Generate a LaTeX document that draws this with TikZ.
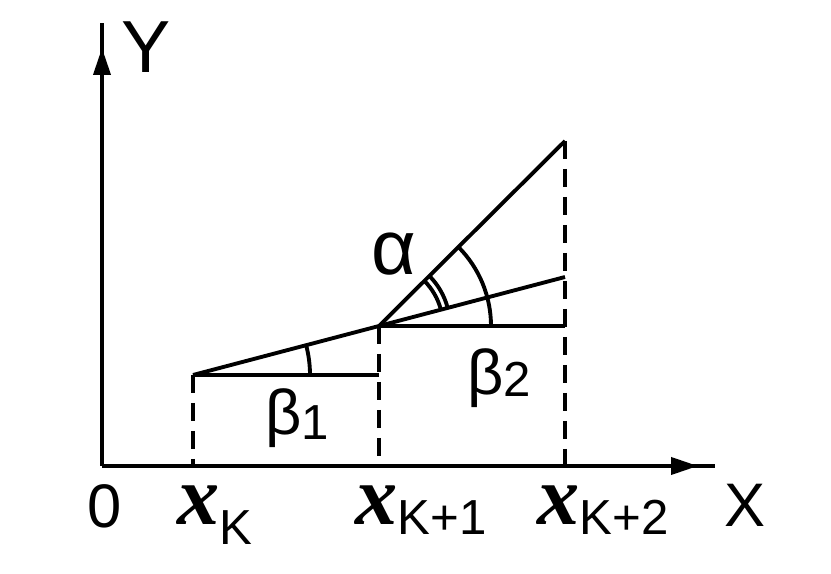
\documentclass[tikz,border=0pt]{standalone}
\usepackage{fontspec}
\usetikzlibrary{arrows.meta,calc,positioning}
\newfontfamily\lblfont{Liberation Sans}
\newfontfamily\varfont{Liberation Serif}
\newcommand{\xvar}{{\varfont\bfseries\itshape\fontsize{48}{52}\selectfont x}}
\newcommand{\subfont}{\lblfont\fontsize{28}{30}\selectfont}

\begin{document}
\begin{tikzpicture}[x=0.02cm, y=0.02cm, >={Triangle[length=0.54cm,width=0.34cm]}]
        % Styles
        \tikzstyle{line} = [line width=2.2pt]
        \tikzstyle{guide} = [line width=2.2pt, dash pattern=on 0.36cm off 0.2cm]
        \tikzstyle{txt} = [inner sep=0pt, font=\lblfont\fontsize{35}{40}\selectfont]
        \useasboundingbox (0,0) rectangle (831,574);

        % Points
        \coordinate (O) at (102,108);
        \coordinate (Ytip) at (102,526);
        \coordinate (Yend) at (102,551);
        \coordinate (Xtip) at (698,108);
        \coordinate (Xend) at (715,108);
        \coordinate (A) at (193,199);
        \coordinate (B) at (379,248);
        \coordinate (C) at (565,433);
        \coordinate (Ak) at (193,108);
        \coordinate (Bk) at (379,108);
        \coordinate (Ck) at (565,108);
        \coordinate (A2) at (379,199);
        \coordinate (B2) at (565,248);
        \coordinate (E) at ($(A)!2!(B)$);

        % Axes
        \draw [line] (O) -- (Yend);
        \draw [line, ->] (O) -- (Ytip);
        \draw [line] (O) -- (Xend);
        \draw [line, ->] (O) -- (Xtip);

        % Edges
        \draw [line] (A) -- (E);
        \draw [line] (B) -- (C);
        \draw [line] (A) -- (A2);
        \draw [line] (B) -- (B2);
        \draw [guide] (A) -- (Ak);
        \draw [guide] (B) -- (Bk);
        \draw [guide] (C) -- (Ck);

        % Angles
        \draw [line] ([shift=(0:117)]A) arc [start angle=0, end angle=14.76, radius=117];
        \draw [line] ([shift=(0:112)]B) arc [start angle=0, end angle=44.85, radius=112];
        \draw [line] ([shift=(14.76:64)]B) arc [start angle=14.76, end angle=44.85, radius=64];
        \draw [line] ([shift=(14.76:71)]B) arc [start angle=14.76, end angle=44.85, radius=71];

        % Nodes
        \node [txt, anchor=base, font=\lblfont\fontsize{42}{46}\selectfont] (ylab) at (146,501) {Y};
        \node [txt, anchor=base] (xlab) at (745,47) {X};
        \node [txt, anchor=base] (olab) at (105,46) {0};
        \node [txt, anchor=base west] (xk) at (177,49) {\xvar\raisebox{-0.4cm}{\subfont K}};
        \node [txt, anchor=base west] (xk1) at (355,49) {\xvar\raisebox{-0.2cm}{\subfont K+1}};
        \node [txt, anchor=base west] (xk2) at (537,49) {\xvar\raisebox{-0.2cm}{\subfont K+2}};
        \node [txt, anchor=base, font=\lblfont\fontsize{44}{48}\selectfont] (alpha) at (394,299) {α};
        \node [txt, anchor=base west, font=\lblfont\fontsize{36}{40}\selectfont] (beta1) at (265,139) {β\raisebox{-0.1cm}{\subfont 1}};
        \node [txt, anchor=base west, font=\lblfont\fontsize{36}{40}\selectfont] (beta2) at (467,179) {β\raisebox{-0.04cm}{\subfont 2}};
\end{tikzpicture}
\end{document}
